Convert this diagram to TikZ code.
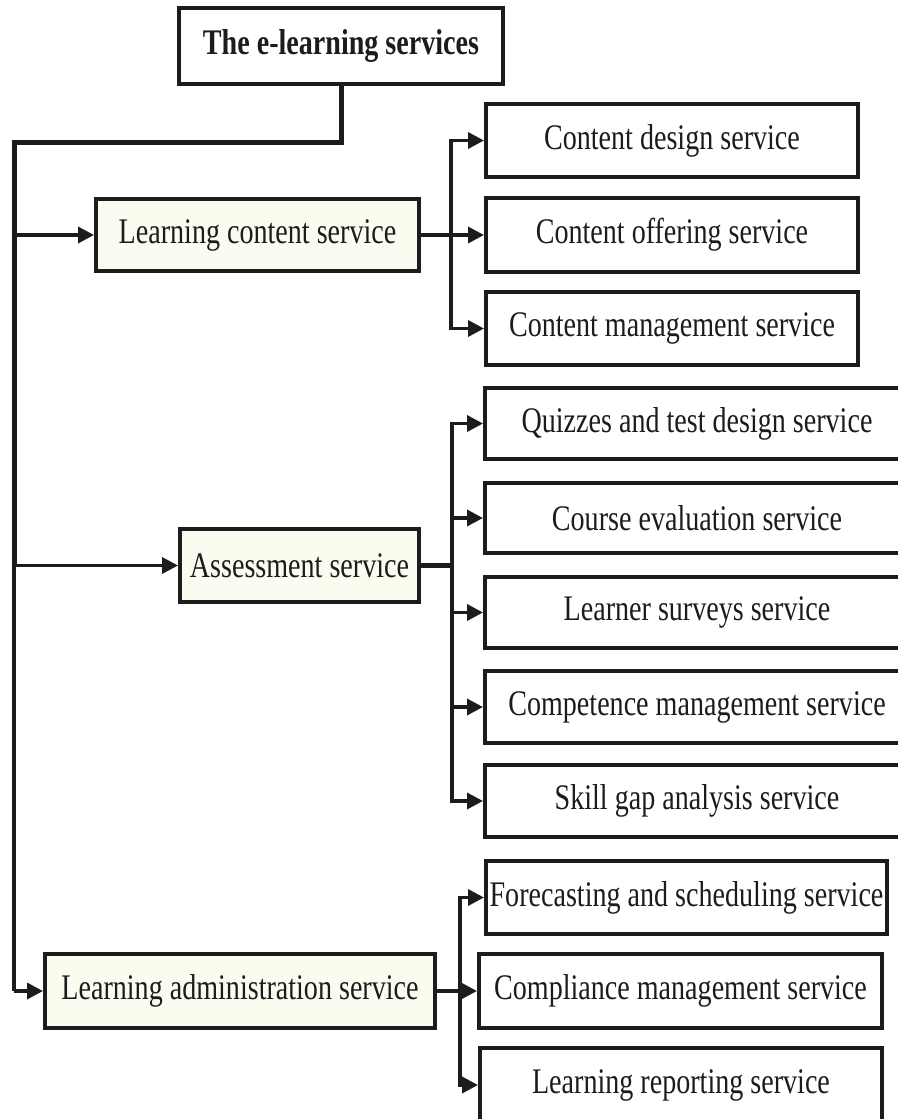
\documentclass[tikz,border=0pt]{standalone}
\usepackage{fontspec}
\setmainfont{Liberation Serif}[FakeStretch=0.78]
\usetikzlibrary{arrows.meta}
\definecolor{ink}{HTML}{1C1C1C}
\definecolor{cream}{HTML}{FBFBF0}
\begin{document}
\begin{tikzpicture}[x=1pt,y=-1pt,
  box/.style={draw=ink,line width=4pt,inner sep=0pt,minimum height=73pt,
    font=\fontsize{36}{40}\selectfont,text=ink},
  mainbox/.style={box,fill=cream},
  subbox/.style={box,fill=white},
  link/.style={draw=ink,line width=3.5pt},
  arr/.style={link,-{Triangle[length=16pt,width=16pt]}}]
\useasboundingbox (0,0) rectangle (897,1119);

% root
\node[box,line width=4.5pt,minimum width=324pt,minimum height=76pt,
  font=\fontsize{36}{40}\selectfont\bfseries] (root) at (341,46) {The e-learning services};

% second level
\node[mainbox,minimum width=323pt,minimum height=72pt] (lcs) at (257.5,235) {Learning content service};
\node[mainbox,minimum width=239pt] (asm) at (299.5,565.5) {Assessment service};
\node[mainbox,minimum width=390pt,minimum height=74pt] (adm) at (240,991) {Learning administration service};

% content services
\node[subbox,minimum width=372pt] (cd) at (672,140.5) {Content design service};
\node[subbox,minimum width=372pt,minimum height=74pt] (co) at (672,235) {Content offering service};
\node[subbox,minimum width=372pt] (cm) at (672,328.5) {Content management service};

% assessment services
\node[subbox,minimum width=424pt,minimum height=71pt] (qz) at (697,423.5) {Quizzes and test design service};
\node[subbox,minimum width=424pt,minimum height=70pt] (ce) at (697,518) {Course evaluation service};
\node[subbox,minimum width=424pt,minimum height=71pt] (ls) at (697,612.5) {Learner surveys service};
\node[subbox,minimum width=424pt,minimum height=72pt] (cp) at (697,707) {Competence management service};
\node[subbox,minimum width=424pt,minimum height=72pt] (sg) at (697,801) {Skill gap analysis service};

% administration services
\node[subbox,minimum width=401pt] (fc) at (686.5,897.5) {Forecasting and scheduling service};
\node[subbox,minimum width=403pt,minimum height=74pt] (cmp) at (680.5,991) {Compliance management service};
\node[subbox,minimum width=402pt,minimum height=74pt] (lr) at (681,1085) {Learning reporting service};

% main spine
\coordinate (sp) at (14,142);
\draw[link,line width=5pt] (root.south) |- (sp) -- (sp |- asm.west);
\draw[link,line width=4pt] (sp |- asm.west) -- (sp |- adm.west);
\draw[arr] (sp |- adm.west) -- (adm.west);
\draw[arr] (sp |- lcs.west) -- (lcs.west);
\draw[arr] (sp |- asm.west) -- (asm.west);

% content branch
\coordinate (b1) at (451,235);
\draw[arr] (lcs.east) -- (co.west);
\draw[arr] (b1) |- (cd.west);
\draw[arr] (b1) |- (cm.west);

% assessment branch
\coordinate (b2) at (452,565.5);
\draw[link,line width=5pt] (asm.east) -- (b2);
\draw[arr] (b2) |- (qz.west);
\draw[arr] (b2) |- (ce.west);
\draw[arr] (b2) |- (ls.west);
\draw[arr] (b2) |- (cp.west);
\draw[arr] (b2) |- (sg.west);

% administration branch
\coordinate (b3) at (460,991);
\draw[arr] (adm.east) -- (cmp.west);
\draw[arr] (b3) |- (fc.west);
\draw[arr] (b3) |- (lr.west);
\end{tikzpicture}
\end{document}
